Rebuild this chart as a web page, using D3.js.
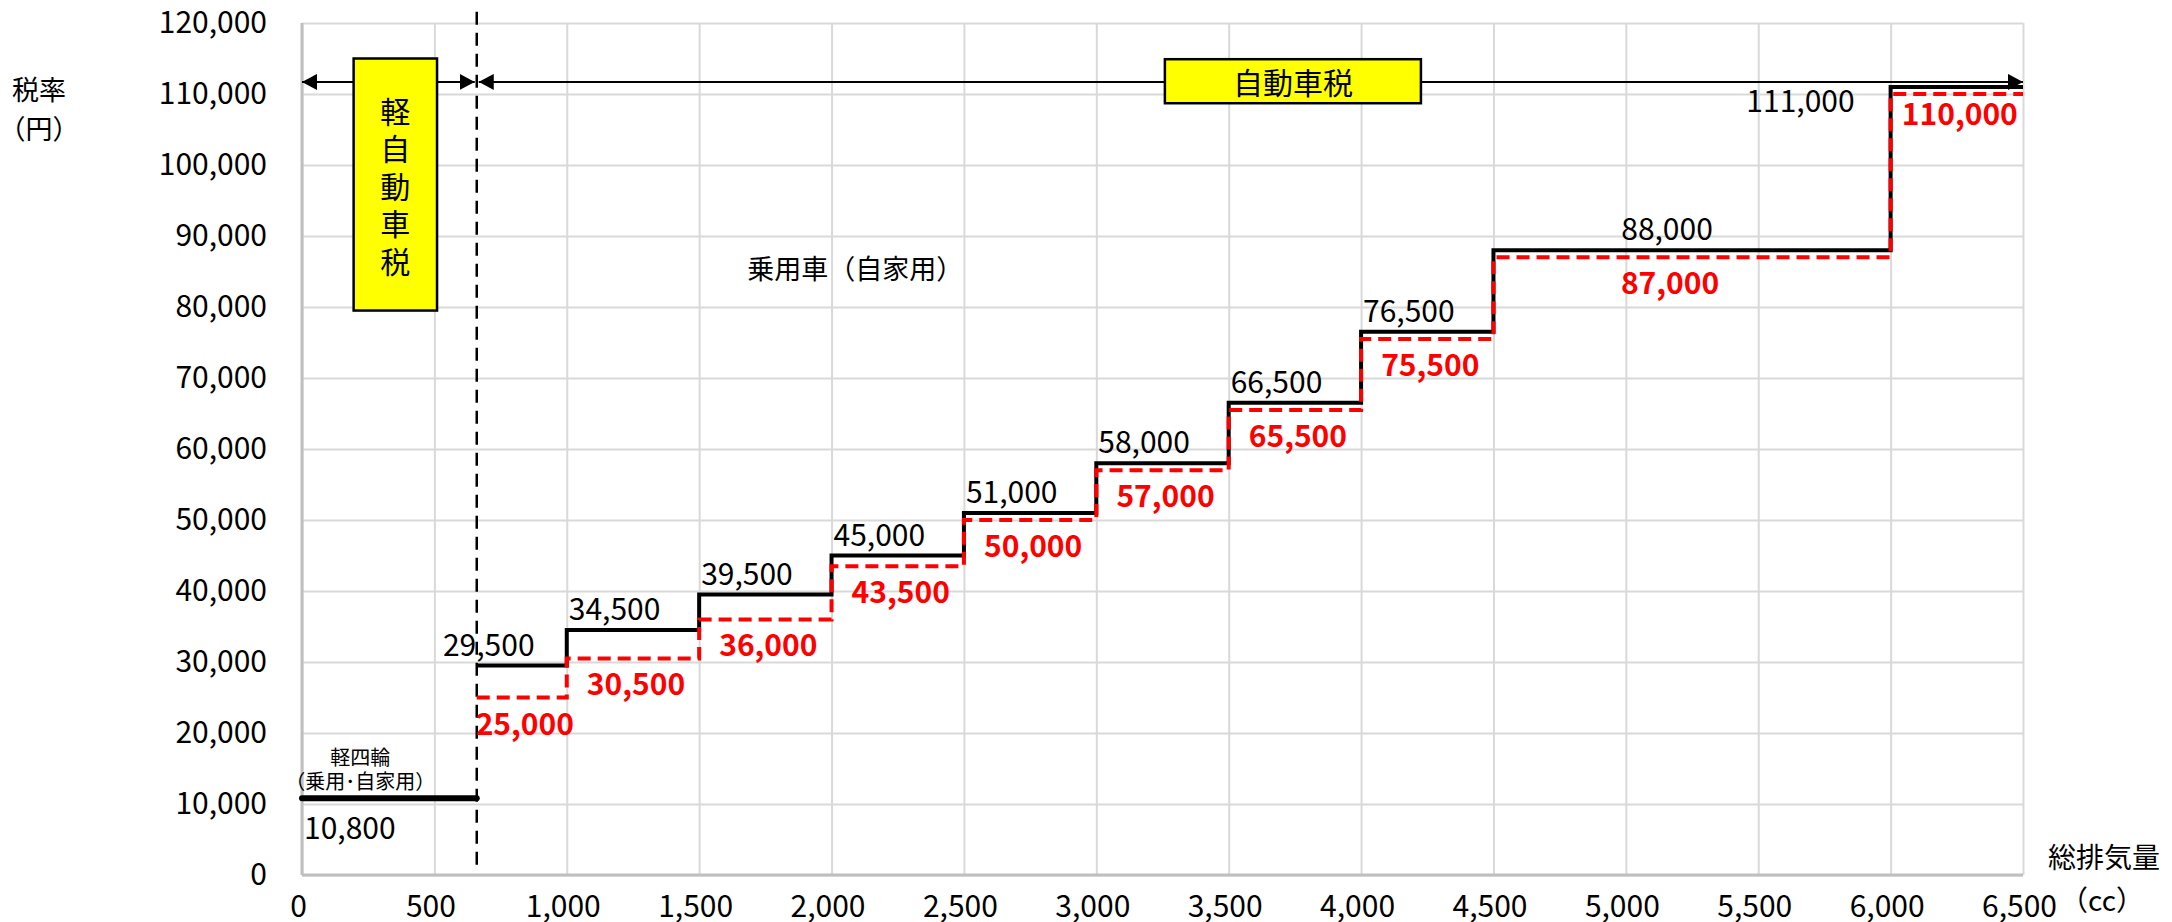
<!DOCTYPE html>
<html>
<head>
<meta charset="utf-8">
<script src="https://cdn.jsdelivr.net/npm/d3@7"></script>
<style>
  body { margin: 0; background: #fff; }
  text { font-family: "Noto Sans CJK JP", "Noto Sans", sans-serif; }
</style>
</head>
<body>
<div id="chart"></div>
<script>
// displacement brackets (cc) - each tax applies from breaks[i] to breaks[i+1]
var breaks = [660, 1000, 1500, 2000, 2500, 3000, 3500, 4000, 4500, 6000, 6500];
// old rates (black) and new rates (red dashed), yen
var oldTax = [29500, 34500, 39500, 45000, 51000, 58000, 66500, 76500, 88000, 111000];
var newTax = [25000, 30500, 36000, 43500, 50000, 57000, 65500, 75500, 87000, 110000];
// kei car (軽四輪)
var keiRange = [0, 660];
var keiTax = 10800;

var xTicks = [0, 500, 1000, 1500, 2000, 2500, 3000, 3500, 4000, 4500, 5000, 5500, 6000, 6500];
var yTicks = [0, 10000, 20000, 30000, 40000, 50000, 60000, 70000, 80000, 90000, 100000, 110000, 120000];

// set the dimensions and margins of the graph
var margin = {top: 23, right: 149, bottom: 47, left: 302},
    width = 2172 - margin.left - margin.right,
    height = 922 - margin.top - margin.bottom;

var root = d3.select("#chart")
  .append("svg")
    .attr("width", 2172)
    .attr("height", 922);

var svg = root.append("g")
    .attr("transform", "translate(" + margin.left + "," + margin.top + ")");

var x = d3.scaleLinear().domain([0, 6500]).range([0, width]);
var y = d3.scaleLinear().domain([0, 120000]).range([height, 0]);
var fmt = d3.format(",");

// arrow heads
var defs = root.append("defs");
defs.append("marker")
    .attr("id", "arrow")
    .attr("viewBox", "0 0 15 16")
    .attr("refX", 15).attr("refY", 8)
    .attr("markerWidth", 15).attr("markerHeight", 16)
    .attr("markerUnits", "userSpaceOnUse")
    .attr("orient", "auto-start-reverse")
  .append("path")
    .attr("d", "M0,0L15,8L0,16Z")
    .attr("fill", "#000");

// grid (Y)
var yAxis = svg.append("g")
  .call(d3.axisLeft(y).tickValues(yTicks).tickSize(-width).tickPadding(35).tickFormat(fmt));
yAxis.select(".domain").remove();
yAxis.selectAll("line").attr("stroke", "#d9d9d9").attr("stroke-width", 2);
yAxis.selectAll("text")
  .attr("font-size", 30).attr("fill", "#000")
  .style("font-family", "'Noto Sans CJK JP', sans-serif");

// grid (X)
var xAxis = svg.append("g")
  .attr("transform", "translate(0," + height + ")")
  .call(d3.axisBottom(x).tickValues(xTicks).tickSize(-height).tickFormat(fmt));
xAxis.select(".domain").remove();
xAxis.selectAll("line").attr("stroke", "#d9d9d9").attr("stroke-width", 2);
xAxis.selectAll("text")
  .attr("font-size", 30).attr("fill", "#000")
  .attr("y", 42).attr("dy", null).attr("dx", -4)
  .style("font-family", "'Noto Sans CJK JP', sans-serif");

// axis lines
svg.append("line")
  .attr("x1", 0).attr("x2", 0).attr("y1", 0).attr("y2", height)
  .attr("stroke", "#bfbfbf").attr("stroke-width", 3);
svg.append("line")
  .attr("x1", 0).attr("x2", width).attr("y1", height).attr("y2", height)
  .attr("stroke", "#bfbfbf").attr("stroke-width", 3);

// boundary between kei and normal cars
svg.append("line")
  .attr("x1", x(keiRange[1])).attr("x2", x(keiRange[1]))
  .attr("y1", y(121600)).attr("y2", y(1400))
  .attr("stroke", "#000").attr("stroke-width", 2.5)
  .attr("stroke-dasharray", "13,8");

// range arrows at the top
var arrowY = y(111700);
svg.append("line")
  .attr("x1", x(keiRange[0])).attr("x2", x(keiRange[1]) - 2)
  .attr("y1", arrowY).attr("y2", arrowY)
  .attr("stroke", "#000").attr("stroke-width", 2)
  .attr("marker-start", "url(#arrow)").attr("marker-end", "url(#arrow)");
svg.append("line")
  .attr("x1", x(keiRange[1]) + 2).attr("x2", x(6500))
  .attr("y1", arrowY).attr("y2", arrowY)
  .attr("stroke", "#000").attr("stroke-width", 2)
  .attr("marker-start", "url(#arrow)").attr("marker-end", "url(#arrow)");

// 軽自動車税 box
svg.append("rect")
  .attr("x", x(195)).attr("y", y(115000))
  .attr("width", x(510) - x(195)).attr("height", y(79500) - y(115000))
  .attr("fill", "#ffff00").attr("stroke", "#000").attr("stroke-width", 2.5);
var keiChars = "軽自動車税".split("");
var boxMid = (y(115000) + y(79500)) / 2;
svg.selectAll(".vchar")
  .data(keiChars)
  .enter().append("text")
    .attr("class", "vchar")
    .attr("x", (x(195) + x(510)) / 2)
    .attr("y", function(d, i) { return boxMid + (i - 2) * 37.5; })
    .attr("text-anchor", "middle")
    .attr("dominant-baseline", "central")
    .attr("font-size", 30)
    .text(function(d) { return d; });

// 自動車税 box
svg.append("rect")
  .attr("x", x(3259)).attr("y", y(114900))
  .attr("width", x(4226) - x(3259)).attr("height", y(108700) - y(114900))
  .attr("fill", "#ffff00").attr("stroke", "#000").attr("stroke-width", 2.5);
svg.append("text")
  .attr("x", (x(3259) + x(4226)) / 2)
  .attr("y", (y(114900) + y(108700)) / 2)
  .attr("text-anchor", "middle")
  .attr("dominant-baseline", "central")
  .attr("font-size", 30)
  .text("自動車税");

// kei line
svg.append("path")
  .datum(keiRange.map(function(d) { return [d, keiTax]; }))
  .attr("fill", "none")
  .attr("stroke", "#000")
  .attr("stroke-width", 6)
  .attr("stroke-linecap", "round")
  .attr("d", d3.line().x(function(d) { return x(d[0]); }).y(function(d) { return y(d[1]); }));

// step lines
function stepPoints(tax) {
  return breaks.map(function(b, i) { return [b, tax[Math.min(i, tax.length - 1)]]; });
}
var step = d3.line()
  .curve(d3.curveStepAfter)
  .x(function(d) { return x(d[0]); })
  .y(function(d) { return y(d[1]); });

svg.append("path")
  .datum(stepPoints(oldTax))
  .attr("fill", "none")
  .attr("stroke", "#000")
  .attr("stroke-width", 4)
  .attr("d", step);

svg.append("path")
  .datum(stepPoints(newTax))
  .attr("fill", "none")
  .attr("stroke", "#ff0000")
  .attr("stroke-width", 4)
  .attr("stroke-dasharray", "13,7")
  .attr("d", step);

// labels for old rates (black)
svg.selectAll(".oldLabel")
  .data(oldTax)
  .enter().append("text")
    .attr("class", "oldLabel")
    .attr("font-size", 30)
    .attr("fill", "#000")
    .attr("text-anchor", function(d, i) {
      if (i === 0 || i === 8) return "middle";
      if (i === 9) return "end";
      return "start";
    })
    .attr("x", function(d, i) {
      if (i === 0) return x(breaks[0]) + 12;
      if (i === 8) return (x(breaks[8]) + x(breaks[9])) / 2 - 25;
      if (i === 9) return x(breaks[9]) - 36;
      return x(breaks[i]) + 2;
    })
    .attr("y", function(d, i) { return i === 9 ? y(d) + 25 : y(d) - 10; })
    .text(function(d) { return fmt(d); });

// labels for new rates (red)
svg.selectAll(".newLabel")
  .data(newTax)
  .enter().append("text")
    .attr("class", "newLabel")
    .attr("font-size", 30)
    .attr("font-weight", "bold")
    .attr("fill", "#ff0000")
    .attr("text-anchor", "middle")
    .attr("x", function(d, i) {
      var mid = (x(breaks[i]) + x(breaks[i + 1])) / 2;
      return i === 8 ? mid - 22 : mid + 3;
    })
    .attr("y", function(d, i) { return y(d) + (i === 9 ? 31 : 37); })
    .text(function(d) { return fmt(d); });

// kei labels
svg.append("text")
  .attr("x", x(keiRange[0]) + 2).attr("y", y(keiTax) + 41)
  .attr("font-size", 30).text(fmt(keiTax));
svg.append("text")
  .attr("x", x(220)).attr("y", y(16760))
  .attr("text-anchor", "middle").attr("dominant-baseline", "central")
  .attr("font-size", 20).text("軽四輪");
svg.append("text")
  .attr("x", x(220)).attr("y", y(13380))
  .attr("text-anchor", "middle").attr("dominant-baseline", "central")
  .attr("font-size", 20).text("（乗用･自家用）");

svg.append("text")
  .attr("x", x(2090)).attr("y", y(85600))
  .attr("text-anchor", "middle").attr("dominant-baseline", "central")
  .attr("font-size", 27).text("乗用車（自家用）");

// axis titles
root.append("text")
  .attr("x", 39).attr("y", 88)
  .attr("text-anchor", "middle").attr("dominant-baseline", "central")
  .attr("font-size", 27).text("税率");
root.append("text")
  .attr("x", 39).attr("y", 127)
  .attr("text-anchor", "middle").attr("dominant-baseline", "central")
  .attr("font-size", 27).text("（円）");
root.append("text")
  .attr("x", 2104).attr("y", 856)
  .attr("text-anchor", "middle").attr("dominant-baseline", "central")
  .attr("font-size", 28).text("総排気量");
root.append("text")
  .attr("x", 2102).attr("y", 899)
  .attr("text-anchor", "middle").attr("dominant-baseline", "central")
  .attr("font-size", 28).text("（cc）");
</script>
</body>
</html>
